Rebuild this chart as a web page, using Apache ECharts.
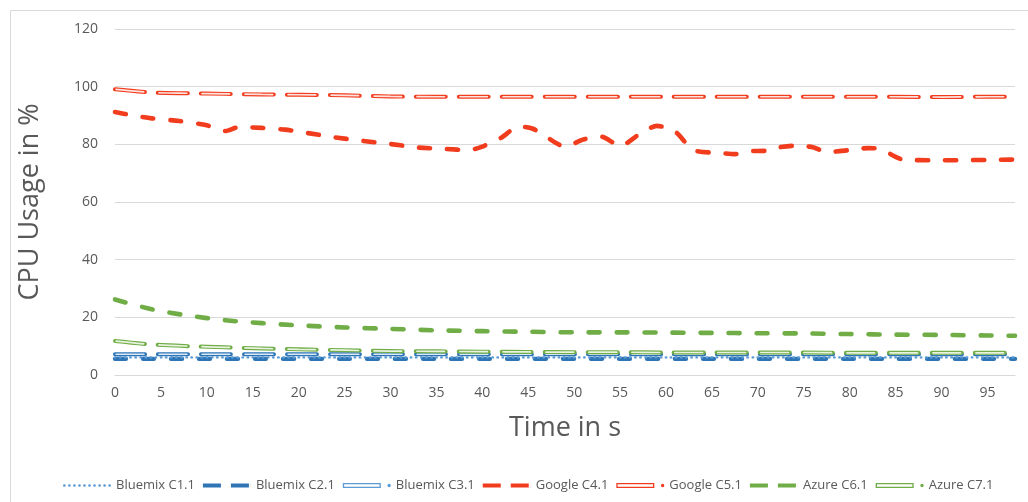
<!DOCTYPE html>
<html>
<head>
<meta charset="utf-8">
<script src="https://cdn.jsdelivr.net/npm/echarts@6/dist/echarts.min.js"></script>
<style>
  html, body { margin: 0; padding: 0; background: #ffffff; }
  #chart { width: 1028px; height: 502px; }
</style>
</head>
<body>
<div id="chart"></div>
<script>
// Series labels
const seriesNames = ['Bluemix C1.1', 'Bluemix C2.1', 'Bluemix C3.1', 'Google C4.1', 'Google C5.1', 'Azure C6.1', 'Azure C7.1'];

// Sample times (s) shared by the smoother series
const timeCommon = [0, 4, 8, 12, 16, 20, 25, 30, 35, 40, 45, 50, 55, 60, 65, 70, 75, 80, 85, 90, 95, 98];

// CPU usage (%) at timeCommon
const cpuC1 = [6.1, 6.1, 6.1, 6.1, 6.1, 6.1, 6.1, 6.1, 6.1, 6.1, 6.1, 6.1, 6.1, 6.1, 6.1, 6.1, 6.1, 6.1, 6.1, 6.1, 6.1, 6.1];
const cpuC2 = [5.6, 5.6, 5.6, 5.6, 5.6, 5.6, 5.6, 5.6, 5.6, 5.6, 5.6, 5.6, 5.6, 5.6, 5.6, 5.6, 5.6, 5.6, 5.6, 5.6, 5.6, 5.6];
const cpuC3 = [7.2, 7.2, 7.2, 7.2, 7.2, 7.2, 7.2, 7.2, 7.2, 7.2, 7.2, 7.2, 7.2, 7.2, 7.2, 7.2, 7.2, 7.2, 7.2, 7.2, 7.2, 7.2];
const cpuC5 = [99.1, 98.0, 97.7, 97.5, 97.3, 97.2, 97.0, 96.6, 96.5, 96.5, 96.5, 96.5, 96.5, 96.5, 96.5, 96.5, 96.5, 96.5, 96.5, 96.4, 96.5, 96.5];
const cpuC6 = [26.2, 22.8, 20.6, 19.0, 18.0, 17.2, 16.5, 16.0, 15.5, 15.2, 15.0, 14.8, 14.8, 14.7, 14.6, 14.5, 14.4, 14.2, 14.0, 13.9, 13.7, 13.6];
const cpuC7 = [11.8, 10.6, 10.0, 9.6, 9.2, 8.9, 8.6, 8.3, 8.2, 8.1, 8.0, 7.9, 7.9, 7.8, 7.8, 7.8, 7.8, 7.7, 7.7, 7.7, 7.7, 7.7];

// Google C4.1 fluctuates, so it has its own sample times
const timeC4 = [0, 2, 4, 7, 10, 12, 13.5, 16, 18.5, 21, 24, 27, 30, 33, 36, 38.5, 40, 42, 44, 45.5, 47, 49, 51, 53, 55, 57, 59, 61, 63, 66, 67.5, 69, 71, 72, 74, 76, 77.5, 80, 82, 83.3, 86, 89, 92, 95, 98];
const cpuC4 = [91.2, 90.0, 89.0, 88.1, 86.6, 84.6, 86.0, 85.7, 85.1, 83.9, 82.4, 81.2, 80.1, 78.9, 78.4, 78.0, 79.2, 82.2, 86.2, 85.4, 82.5, 79.2, 81.7, 82.6, 79.4, 83.3, 86.4, 84.4, 78.0, 77.0, 76.6, 77.6, 77.8, 78.8, 79.5, 79.0, 77.3, 78.0, 78.7, 78.4, 74.6, 74.5, 74.5, 74.6, 74.7];

// Axis settings
const xMax = 98;
const xStep = 5;
const yMax = 120;
const yStep = 20;

const RED = '#F23C1E';
const GREEN = '#70AD47';
const BLUE_LIGHT = '#5B9BD5';
const BLUE_DARK = '#2E75B6';
const TEXT = '#595959';
const FONT = '"Open Sans", "Liberation Sans", sans-serif';

function pairs(times, vals) {
  return times.map((t, i) => [t, vals[i]]);
}

function line(name, times, vals, color, width, dash, cap, z, extra) {
  return Object.assign({
    name: name,
    type: 'line',
    data: pairs(times, vals),
    showSymbol: false,
    symbol: 'none',
    smooth: 0.3,
    z: z,
    itemStyle: { color: color },
    lineStyle: { color: color, width: width, type: dash, cap: cap, join: 'round' },
    emphasis: { disabled: true }
  }, extra || {});
}

// A double (compound) dashed stroke: coloured outer dash with a pale core
function doubleLine(name, times, vals, color, core, z) {
  return [
    line(name, times, vals, color, 4.0, [30, 13], 'round', z),
    line(name, times, vals, core, 1.7, [27.6, 15.4], 'round', z + 1,
      { lineStyle: { color: core, width: 1.7, type: [27.6, 15.4], dashOffset: -1.2, cap: 'round' } })
  ];
}

// Legend swatches (48 px wide)
function dotsPath() {
  let p = '';
  const r = 1.3;
  for (let cx = r; cx <= 48 - r + 0.01; cx += 4.8) {
    p += `M${(cx - r).toFixed(2)} 2 a${r} ${r} 0 1 0 ${2 * r} 0 a${r} ${r} 0 1 0 ${-2 * r} 0 Z `;
  }
  return 'path://' + p;
}
const ICON_DOTS = dotsPath();
const ICON_DASH = 'path://M0 0 H18 V4.2 H0 Z M28 0 H46 V4.2 H28 Z M47.9 0 H48 V4.2 H47.9 Z';
const ICON_DOUBLE = 'path://M0 0 H38 V5 H0 Z M1.3 1.3 V3.7 H36.7 V1.3 Z M44.6 2.5 a1.7 1.7 0 1 0 3.4 0 a1.7 1.7 0 1 0 -3.4 0 Z';

const series = [
  line(seriesNames[0], timeCommon, cpuC1, BLUE_LIGHT, 2.4, [0.5, 4.6], 'round', 10),
  line(seriesNames[1], timeCommon, cpuC2, BLUE_DARK, 4.4, [11, 17], 'round', 9),
  ...doubleLine(seriesNames[2], timeCommon, cpuC3, BLUE_DARK, '#DCEAF7', 11),
  line(seriesNames[3], timeC4, cpuC4, RED, 4.6, [11, 17], 'round', 13, { smooth: 0.25 }),
  ...doubleLine(seriesNames[4], timeCommon, cpuC5, RED, '#FDE3DD', 14),
  line(seriesNames[5], timeCommon, cpuC6, GREEN, 4.6, [11, 17], 'round', 16),
  ...doubleLine(seriesNames[6], timeCommon, cpuC7, GREEN, '#E8F3E0', 17)
];

const legendIcons = [ICON_DOTS, ICON_DASH, ICON_DOUBLE, ICON_DASH, ICON_DOUBLE, ICON_DASH, ICON_DOUBLE];
const legendColors = [BLUE_LIGHT, BLUE_DARK, BLUE_LIGHT, RED, RED, GREEN, GREEN];

const chart = echarts.init(document.getElementById('chart'), null, { renderer: 'canvas' });
chart.setOption({
  animation: false,
  backgroundColor: '#ffffff',
  textStyle: { fontFamily: FONT },
  graphic: [{
    type: 'rect',
    shape: { x: 10.5, y: 10.5, width: 1040, height: 520 },
    style: { fill: 'none', stroke: '#D9D9D9', lineWidth: 1 },
    silent: true,
    z: -10
  }],
  grid: { left: 115, right: 13, top: 29, bottom: 127, containLabel: false },
  xAxis: {
    type: 'value',
    min: 0,
    max: xMax,
    interval: xStep,
    name: 'Time in s',
    nameLocation: 'middle',
    nameGap: 40,
    nameTextStyle: { fontSize: 27, color: TEXT, fontFamily: FONT },
    axisLine: { show: true, lineStyle: { color: '#D9D9D9', width: 1 } },
    axisTick: { show: false },
    splitLine: { show: false },
    axisLabel: { color: TEXT, fontSize: 14, margin: 11, fontFamily: FONT, showMaxLabel: false }
  },
  yAxis: {
    type: 'value',
    min: 0,
    max: yMax,
    interval: yStep,
    name: 'CPU Usage in %',
    nameLocation: 'middle',
    nameGap: 71,
    nameTextStyle: { fontSize: 27, color: TEXT, fontFamily: FONT },
    axisLine: { show: false },
    axisTick: { show: false },
    splitLine: { lineStyle: { color: '#D9D9D9', width: 1 } },
    axisLabel: { color: TEXT, fontSize: 14, margin: 17, fontFamily: FONT }
  },
  legend: {
    top: 474,
    left: 58,
    itemWidth: 48,
    itemHeight: 8,
    itemGap: 8,
    symbolKeepAspect: true,
    selectedMode: false,
    textStyle: { color: TEXT, fontSize: 13, fontFamily: FONT },
    data: seriesNames.map((n, i) => ({ name: n, icon: legendIcons[i], itemStyle: { color: legendColors[i] } }))
  },
  series: series
});
</script>
</body>
</html>
